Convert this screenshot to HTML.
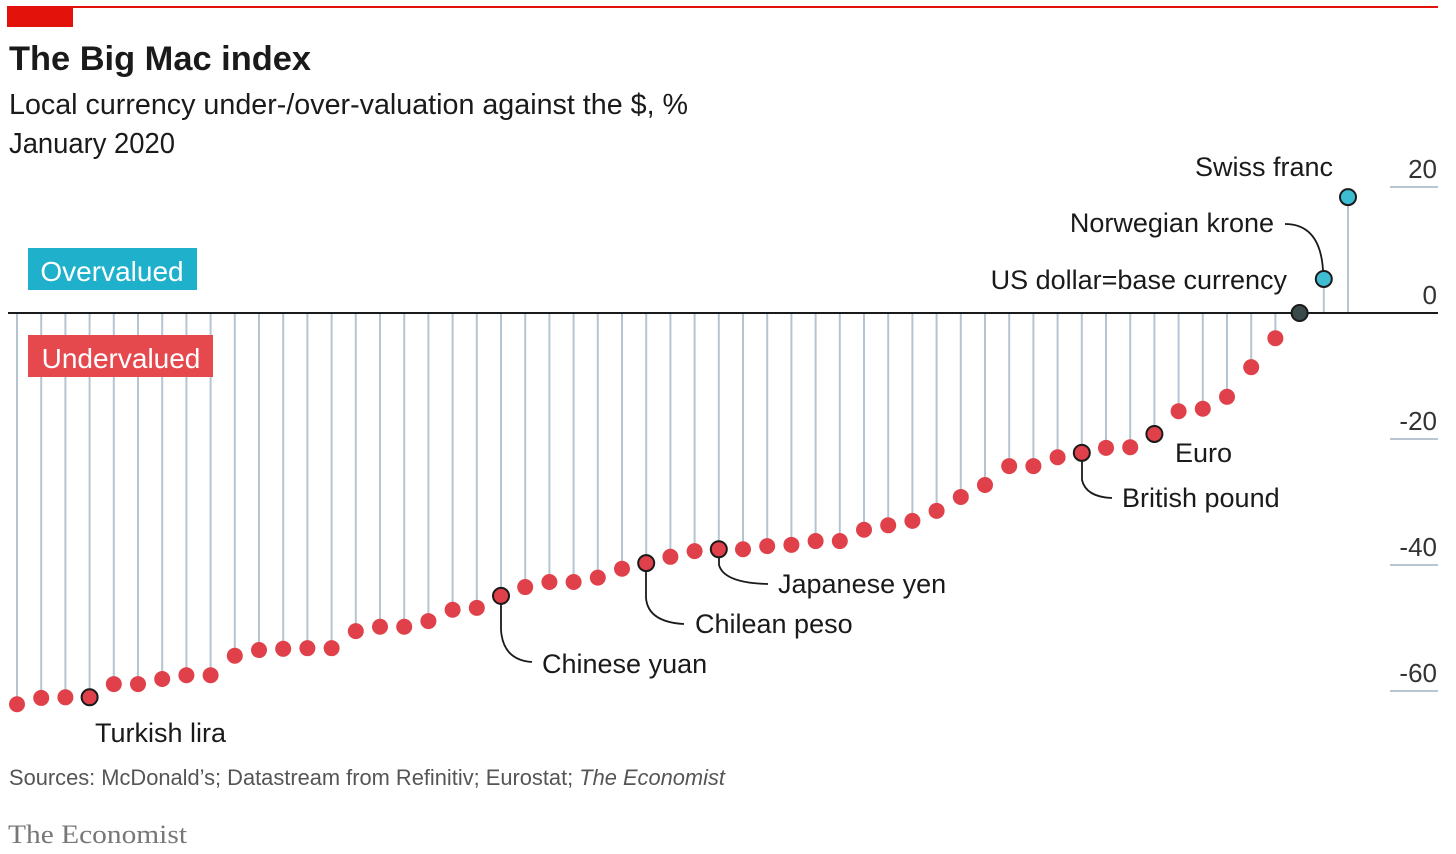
<!DOCTYPE html>
<html><head><meta charset="utf-8"><style>
html,body{margin:0;padding:0;background:#fff;}
svg{display:block;font-family:"Liberation Sans",sans-serif;}
</style></head><body>
<svg id="chart" width="1456" height="854" viewBox="0 0 1456 854">
<rect x="0" y="0" width="1456" height="854" fill="#fff"/>
<rect x="7" y="6" width="1431" height="2" fill="#e3120b"/>
<rect x="7" y="6" width="66" height="21" fill="#e3120b"/>
<text x="9" y="70" font-size="34" font-weight="bold" fill="#1a1a1a" textLength="302" lengthAdjust="spacingAndGlyphs">The Big Mac index</text>
<text x="9" y="114" font-size="29" fill="#1a1a1a" textLength="679" lengthAdjust="spacingAndGlyphs">Local currency under-/over-valuation against the $, %</text>
<text x="9" y="153" font-size="29" fill="#1a1a1a" textLength="166" lengthAdjust="spacingAndGlyphs">January 2020</text>
<g id="grid"></g>
<g id="stems"></g>
<line x1="8" y1="313" x2="1438" y2="313" stroke="#1a1a1a" stroke-width="2"/>
<g id="leaders" fill="none" stroke="#1a1a1a" stroke-width="1.8">
<path d="M501 596 L501 630 Q503 660 532 662"/>
<path d="M646 563 L646 598 Q648 622 684 624"/>
<path d="M719 549 L719 565 Q724 583 768 584"/>
<path d="M1082 453 L1082 480 Q1086 497 1112 498"/>
<path d="M1285 224 Q1320 224 1323 270"/>
</g>
<g id="dots"></g>
<g id="labels" font-size="27" fill="#1a1a1a">
<text x="95" y="742">Turkish lira</text>
<text x="542" y="673">Chinese yuan</text>
<text x="695" y="633">Chilean peso</text>
<text x="778" y="593">Japanese yen</text>
<text x="1122" y="507">British pound</text>
<text x="1175" y="462">Euro</text>
<text x="1287" y="289" text-anchor="end">US dollar=base currency</text>
<text x="1274" y="232" text-anchor="end">Norwegian krone</text>
<text x="1333" y="176" text-anchor="end">Swiss franc</text>
</g>
<rect x="28" y="248" width="169" height="42" fill="#1fb1cc"/>
<text x="112" y="281" font-size="28" fill="#fff" text-anchor="middle">Overvalued</text>
<rect x="28" y="335" width="185" height="42" fill="#e5484d"/>
<text x="121" y="368" font-size="28" fill="#fff" text-anchor="middle">Undervalued</text>
<text x="9" y="785" font-size="22" fill="#555" textLength="716" lengthAdjust="spacingAndGlyphs">Sources: McDonald’s; Datastream from Refinitiv; Eurostat; <tspan font-style="italic">The Economist</tspan></text>
<text x="8" y="843" font-size="26" fill="#777" font-family="Liberation Serif, serif" textLength="179" lengthAdjust="spacingAndGlyphs">The Economist</text>
</svg>
<script>
const values=[-62.1,-61.1,-61,-61,-58.9,-58.9,-58.1,-57.5,-57.5,-54.4,-53.5,-53.3,-53.2,-53.2,-50.5,-49.8,-49.8,-48.9,-47.1,-46.8,-44.9,-43.5,-42.7,-42.7,-42,-40.6,-39.7,-38.7,-37.8,-37.5,-37.5,-37,-36.8,-36.2,-36.2,-34.4,-33.7,-33,-31.4,-29.2,-27.3,-24.3,-24.3,-22.9,-22.2,-21.4,-21.3,-19.2,-15.6,-15.2,-13.3,-8.6,-4,0,5.4,18.4];
const highlighted=[3,20,26,29,44,47,53,54,55];
const tickValues=[20,0,-20,-40,-60];
const tickLabels=["20","0","-20","-40","-60"];
const NS="http://www.w3.org/2000/svg";
const y=v=>313-v*6.3;
const x=i=>17+i*(1348-17)/(values.length-1);
function mk(t,a,p){const e=document.createElementNS(NS,t);for(const k in a)e.setAttribute(k,a[k]);document.getElementById(p).appendChild(e);return e;}
tickValues.forEach((v,i)=>{
 if(v!==0){const l=mk('line',{x1:1390,x2:1438,y1:y(v),y2:y(v),stroke:'#9fb3c3','stroke-width':1.5},'grid');
 
 }
 const t=mk('text',{x:1437,y:y(v)-9,'font-size':26,fill:'#333','text-anchor':'end'},'grid');
 t.textContent=tickLabels[i];
 
 
});
values.forEach((v,i)=>{
 const s=mk('line',{x1:x(i),x2:x(i),y1:313,y2:y(v),stroke:'#b5c4d1','stroke-width':2},'stems');
 
 
 const hl=highlighted.includes(i);
 const col=v>0.5?'#3ebcd2':(Math.abs(v)<0.5?'#3a4a4a':'#e0404a');
 const c=mk('circle',{cx:x(i),cy:y(v),r:8,fill:col,stroke:hl?'#1a1a1a':'none','stroke-width':2},'dots');
 
 
});
</script>
</body></html>
